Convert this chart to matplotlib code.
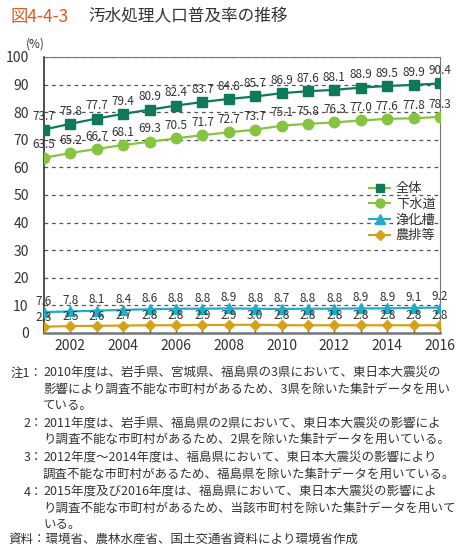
import matplotlib
matplotlib.use("Agg")
import matplotlib.pyplot as plt
from matplotlib.lines import Line2D

plt.rcParams["font.family"] = ["Noto Sans CJK JP", "DejaVu Sans"]
plt.rcParams["axes.unicode_minus"] = False

# データ
years = list(range(2001, 2017))
total = [73.7, 75.8, 77.7, 79.4, 80.9, 82.4, 83.7, 84.8, 85.7, 86.9, 87.6, 88.1, 88.9, 89.5, 89.9, 90.4]
sewer = [63.5, 65.2, 66.7, 68.1, 69.3, 70.5, 71.7, 72.7, 73.7, 75.1, 75.8, 76.3, 77.0, 77.6, 77.8, 78.3]
septic = [7.6, 7.8, 8.1, 8.4, 8.6, 8.8, 8.8, 8.9, 8.8, 8.7, 8.8, 8.8, 8.9, 8.9, 9.1, 9.2]
rural = [2.3, 2.5, 2.6, 2.7, 2.8, 2.8, 2.9, 2.9, 3.0, 2.8, 2.8, 2.8, 2.8, 2.8, 2.8, 2.8]
series_names = ["全体", "下水道", "浄化槽", "農排等"]
y_ticks = list(range(0, 101, 10))
x_labels = [str(y) if y % 2 == 0 else "" for y in years]

notes = [
    ("注1：", "2010年度は、岩手県、宮城県、福島県の3県において、東日本大震災の"),
    ("", "影響により調査不能な市町村があるため、3県を除いた集計データを用い"),
    ("", "ている。"),
    ("2：", "2011年度は、岩手県、福島県の2県において、東日本大震災の影響によ"),
    ("", "り調査不能な市町村があるため、2県を除いた集計データを用いている。"),
    ("3：", "2012年度～2014年度は、福島県において、東日本大震災の影響により"),
    ("", "調査不能な市町村があるため、福島県を除いた集計データを用いている。"),
    ("4：", "2015年度及び2016年度は、福島県において、東日本大震災の影響によ"),
    ("", "り調査不能な市町村があるため、当該市町村を除いた集計データを用いて"),
    ("", "いる。"),
]
source = "資料：環境省、農林水産省、国土交通省資料により環境省作成"

# 色
c_total = "#0f7a5a"
c_sewer = "#86c440"
c_septic = "#1fadc9"
c_rural = "#d4a21a"
text_c = "#333333"

W, H = 466, 557
fig = plt.figure(figsize=(W / 100, H / 100), dpi=100)
ax = fig.add_axes([44 / W, 1 - 333 / H, 396 / W, 276 / H])

ax.plot(years, total, color=c_total, lw=1.6, marker="s", ms=6.5, zorder=5)
ax.plot(years, sewer, color=c_sewer, lw=1.6, marker="o", ms=7.5, zorder=5)
ax.plot(years, septic, color=c_septic, lw=1.6, marker="^", ms=7, zorder=5)
ax.plot(years, rural, color=c_rural, lw=1.6, marker="D", ms=5.5, zorder=5)

# 数値ラベル
for vals, off in [(total, 4.5), (sewer, 4.5), (septic, 3), (rural, 2.2)]:
    for x, v in zip(years, vals):
        ax.annotate(f"{v:.1f}", (x, v), xytext=(0, off), textcoords="offset points",
                    ha="center", va="bottom", fontsize=8.5, color=text_c,
                    annotation_clip=False, zorder=6)

ax.set_xlim(2001, 2016)
ax.set_ylim(0, 100)
ax.set_yticks(y_ticks)
ax.set_xticks(years)
ax.set_xticklabels(x_labels)
ax.tick_params(axis="y", length=0, pad=11, labelsize=10, labelcolor=text_c)
ax.tick_params(axis="x", direction="in", length=5, width=1, color="#555555",
               pad=4, labelsize=10, labelcolor=text_c)

ax.yaxis.grid(True, linestyle=(0, (3, 3)), color="#555555", lw=0.9)
ax.set_axisbelow(True)

ax.spines["left"].set_color("#333333")
ax.spines["left"].set_linewidth(1.2)
ax.spines["bottom"].set_color("#777777")
ax.spines["bottom"].set_linewidth(1.8)
ax.spines["top"].set_color("#777777")
ax.spines["top"].set_linewidth(0.8)
ax.spines["right"].set_color("#777777")
ax.spines["right"].set_linewidth(0.8)

# 凡例
handles = [
    Line2D([], [], color=c_sewer, lw=1.5, marker="s", ms=6, mfc=c_total, mec=c_total),
    Line2D([], [], color=c_sewer, lw=1.5, marker="o", ms=6.5),
    Line2D([], [], color=c_septic, lw=1.5, marker="^", ms=6.5),
    Line2D([], [], color=c_rural, lw=1.5, marker="D", ms=5),
]
leg = ax.legend(handles, series_names, loc="upper left", bbox_to_anchor=(0.805, 0.57),
                frameon=False, fontsize=9.5, handlelength=1.6, handletextpad=0.4,
                labelspacing=0.2, borderpad=0)
for t in leg.get_texts():
    t.set_color(text_c)

# タイトル
fig.text(10 / W, 1 - 17 / H, "図4-4-3", fontsize=12.5, color="#dd5a22", va="center", ha="left")
fig.text(88 / W, 1 - 17 / H, "汚水処理人口普及率の推移", fontsize=12, color=text_c, va="center", ha="left")
fig.text(26 / W, 1 - 44 / H, "(%)", fontsize=8.5, color=text_c, va="center", ha="left")

# 注記
y = 373
for i, (head, body) in enumerate(notes):
    if head and i > 0:
        y += 2
    if head:
        fig.text(43 / W, 1 - y / H, head, fontsize=9, color=text_c, va="center", ha="right")
    fig.text(43 / W, 1 - y / H, body, fontsize=9, color=text_c, va="center", ha="left")
    y += 16.2
fig.text(8 / W, 1 - 539 / H, source, fontsize=9, color=text_c, va="center", ha="left")

fig.savefig("out.png", dpi=100)
